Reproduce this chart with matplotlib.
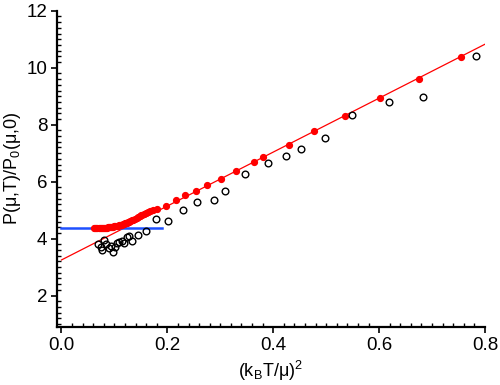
import numpy as np
import matplotlib
matplotlib.use("Agg")
import matplotlib.pyplot as plt
from matplotlib.ticker import MultipleLocator

plt.rcParams["font.family"] = ["Liberation Sans", "DejaVu Sans"]
plt.rcParams["mathtext.fontset"] = "custom"
plt.rcParams["mathtext.rm"] = "Liberation Sans"
plt.rcParams["mathtext.it"] = "Liberation Sans"

# red filled points (theory)
red_x = [0.062, 0.064, 0.066, 0.068, 0.070, 0.072, 0.074, 0.076, 0.078, 0.080,
         0.082, 0.084, 0.086, 0.088, 0.090, 0.092, 0.094, 0.096, 0.098, 0.100,
         0.102, 0.104, 0.106, 0.108, 0.110, 0.112, 0.114, 0.116, 0.118, 0.120,
         0.122, 0.124, 0.126, 0.128, 0.130, 0.133, 0.136, 0.139, 0.142, 0.145,
         0.148, 0.151, 0.155, 0.159, 0.163, 0.167, 0.172, 0.181, 0.197, 0.217,
         0.234, 0.254, 0.275, 0.301, 0.329, 0.363, 0.381, 0.429, 0.477, 0.535,
         0.602, 0.675, 0.754]
red_y = [4.36, 4.36, 4.36, 4.36, 4.36, 4.365, 4.365, 4.37, 4.37, 4.375,
         4.375, 4.38, 4.385, 4.39, 4.39, 4.40, 4.40, 4.41, 4.42, 4.43,
         4.43, 4.44, 4.45, 4.46, 4.47, 4.48, 4.49, 4.51, 4.52, 4.53,
         4.55, 4.56, 4.58, 4.60, 4.62, 4.64, 4.67, 4.70, 4.73, 4.76,
         4.79, 4.82, 4.86, 4.89, 4.93, 4.96, 4.99, 5.05, 5.16, 5.35,
         5.52, 5.66, 5.87, 6.11, 6.38, 6.69, 6.86, 7.30, 7.77, 8.29,
         8.93, 9.60, 10.36]

# black open circles (data)
blk_x = [0.069, 0.074, 0.076, 0.081, 0.085, 0.090, 0.093, 0.097, 0.101, 0.104,
         0.109, 0.114, 0.118, 0.123, 0.128, 0.134, 0.145, 0.159, 0.178, 0.201,
         0.229, 0.256, 0.289, 0.308, 0.346, 0.391, 0.425, 0.452, 0.497, 0.548,
         0.619, 0.682, 0.783]
blk_y = [3.82, 3.72, 3.60, 3.95, 3.80, 3.66, 3.75, 3.54, 3.72, 3.84,
         3.89, 3.90, 3.85, 4.06, 4.10, 3.93, 4.12, 4.28, 4.69, 4.61,
         5.02, 5.28, 5.37, 5.66, 6.27, 6.65, 6.90, 7.15, 7.54, 8.34,
         8.80, 8.97, 10.41]

# linear fit line and low-T plateau
fit_x = [0.0, 0.8]
fit_intercept, fit_slope = 3.25, 9.47
plateau_x = [0.0, 0.19]
plateau_y = 4.36

fig = plt.figure(figsize=(5.0, 3.85), dpi=100)
ax = fig.add_axes([0.114, 0.151, 0.856, 0.821])

fx = np.array(fit_x)
ax.plot(fx, fit_intercept + fit_slope * fx, color="#ff0000", lw=0.9, zorder=2)
ax.plot(plateau_x, [plateau_y, plateau_y], color="#1e50ff", lw=1.8, zorder=3)
ax.plot(red_x, red_y, "o", color="#ff0000", ms=4.2, mec="#ff0000", zorder=4)
ax.plot(blk_x, blk_y, "o", mfc="none", mec="black", ms=4.8, mew=1.0, zorder=4)

ax.set_xlim(-0.0085, 0.8)
ax.set_ylim(0.9, 12)
ax.xaxis.set_major_locator(MultipleLocator(0.2))
ax.xaxis.set_minor_locator(MultipleLocator(0.02))
ax.yaxis.set_major_locator(MultipleLocator(2))
ax.yaxis.set_minor_locator(MultipleLocator(0.2))
ax.set_xticks([0.0, 0.2, 0.4, 0.6, 0.8])
ax.set_xticklabels(["0.0", "0.2", "0.4", "0.6", "0.8"])
ax.set_yticks([2, 4, 6, 8, 10, 12])

for s in ["top", "right"]:
    ax.spines[s].set_visible(False)
for s in ["left", "bottom"]:
    ax.spines[s].set_linewidth(1.6)

ax.tick_params(which="major", direction="out", length=4, width=1.2, labelsize=13.5, pad=3)
ax.tick_params(which="minor", direction="in", length=3, width=1.0)

ax.set_xlabel("(k$_\\mathrm{B}$T/μ)$^2$", fontsize=13)
ax.xaxis.set_label_coords(0.5, -0.1)
ax.set_ylabel("P(μ,T)/P$_0$(μ,0)", fontsize=13)
ax.yaxis.set_label_coords(-0.079, 0.5)

fig.savefig("out.png", dpi=100)
